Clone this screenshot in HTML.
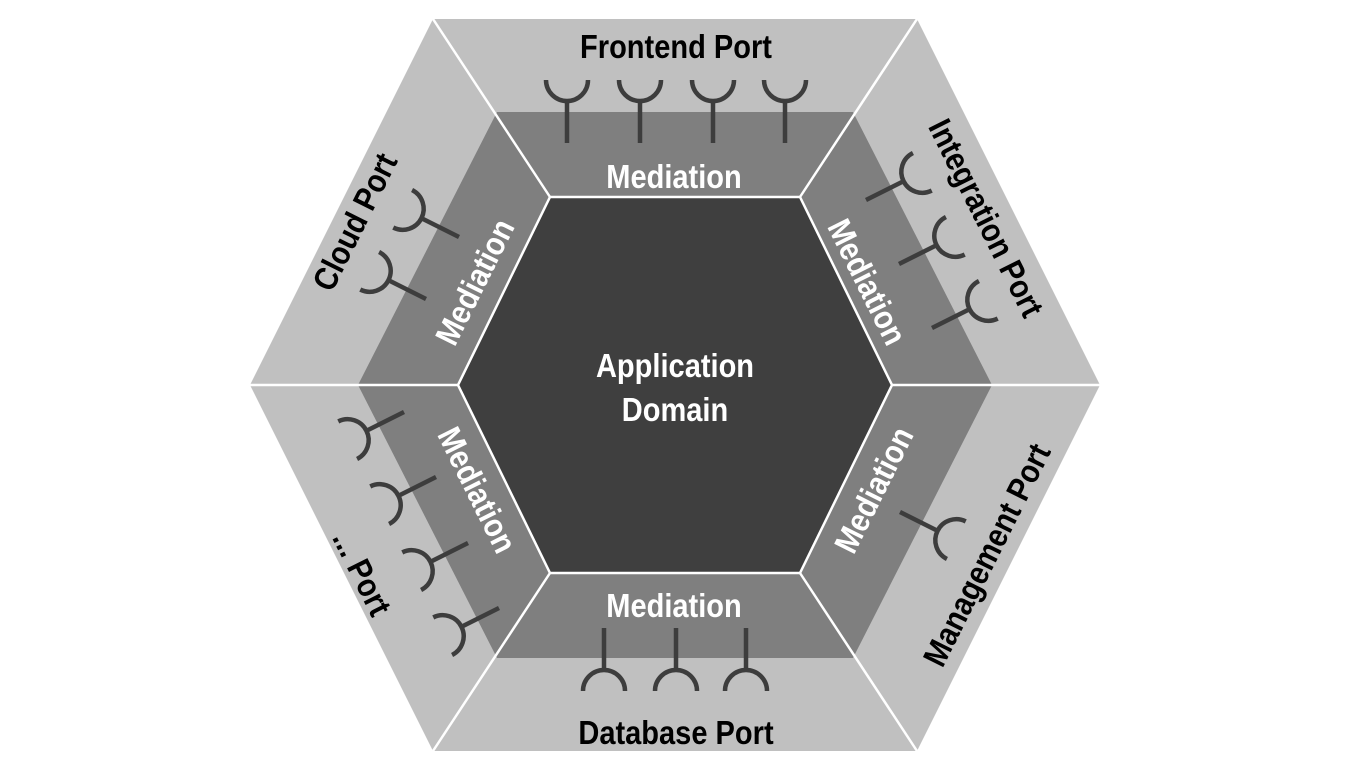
<!DOCTYPE html>
<html><head><meta charset="utf-8"><style>
html,body{margin:0;padding:0;background:#fff;}
svg{display:block;}
text{font-family:"Liberation Sans",Arial,sans-serif;font-weight:bold;font-size:33px;text-anchor:middle;dominant-baseline:central;}
.w{fill:#fff;}
.b{fill:#000;}
</style></head><body>
<svg width="1371" height="771" viewBox="0 0 1371 771" xmlns="http://www.w3.org/2000/svg">
<defs>
<g id="ic" fill="none" stroke="#3d3d3d" stroke-width="4.5">
<line x1="0" y1="0" x2="0" y2="-43"/>
<path d="M-21,-63 A21,21 0 0 0 21,-63"/>
</g>
</defs>
<polygon points="433,19 917,19 1100,385 917,751 433,751 250,385" fill="#c0c0c0"/>
<polygon points="497,112 853,112 992,385 853,658 497,658 358,385" fill="#7f7f7f"/>
<polygon points="550,197 800,197 892,385 800,573 550,573 458,385" fill="#3f3f3f" stroke="#fff" stroke-width="2.5"/>
<g stroke="#fff" stroke-width="2.5">
<line x1="550" y1="197" x2="433" y2="19"/>
<line x1="800" y1="197" x2="917" y2="19"/>
<line x1="892" y1="385" x2="1100" y2="385"/>
<line x1="800" y1="573" x2="917" y2="751"/>
<line x1="550" y1="573" x2="433" y2="751"/>
<line x1="458" y1="385" x2="250" y2="385"/>
</g>
<use href="#ic" transform="translate(567,143)"/>
<use href="#ic" transform="translate(640,143)"/>
<use href="#ic" transform="translate(713,143)"/>
<use href="#ic" transform="translate(785,143)"/>
<use href="#ic" transform="translate(604,628) rotate(180)"/>
<use href="#ic" transform="translate(676,628) rotate(180)"/>
<use href="#ic" transform="translate(746,628) rotate(180)"/>
<use href="#ic" transform="translate(459,237) rotate(-63.4)"/>
<use href="#ic" transform="translate(426,299) rotate(-63.4)"/>
<use href="#ic" transform="translate(866,200) rotate(63.4)"/>
<use href="#ic" transform="translate(899,264) rotate(63.4)"/>
<use href="#ic" transform="translate(932,328) rotate(63.4)"/>
<use href="#ic" transform="translate(900,512) rotate(116.6)"/>
<use href="#ic" transform="translate(404,412) rotate(-116.6)"/>
<use href="#ic" transform="translate(436,477) rotate(-116.6)"/>
<use href="#ic" transform="translate(468,543) rotate(-116.6)"/>
<use href="#ic" transform="translate(499,608) rotate(-116.6)"/>
<text class="b" transform="translate(676,47) scale(0.88,1)">Frontend Port</text>
<text class="b" transform="translate(676,733) scale(0.88,1)">Database Port</text>
<text class="w" transform="translate(674,177) scale(0.88,1)">Mediation</text>
<text class="w" transform="translate(674,606) scale(0.88,1)">Mediation</text>
<text class="w" transform="translate(675,366) scale(0.88,1)">Application</text>
<text class="w" transform="translate(675,410) scale(0.88,1)">Domain</text>
<text class="b" transform="translate(355,222) rotate(-63.4) scale(0.88,1)">Cloud Port</text>
<text class="w" transform="translate(475,282) rotate(-63.4) scale(0.88,1)">Mediation</text>
<text class="b" transform="translate(986,218) rotate(63.4) scale(0.88,1)">Integration Port</text>
<text class="w" transform="translate(867,282) rotate(63.4) scale(0.88,1)">Mediation</text>
<text class="b" transform="translate(987,555) rotate(-63.4) scale(0.88,1)">Management Port</text>
<text class="w" transform="translate(874,490) rotate(-63.4) scale(0.88,1)">Mediation</text>
<text class="b" transform="translate(362,573) rotate(63.4) scale(0.88,1)">... Port</text>
<text class="w" transform="translate(477,490) rotate(63.4) scale(0.88,1)">Mediation</text>
</svg>
</body></html>
